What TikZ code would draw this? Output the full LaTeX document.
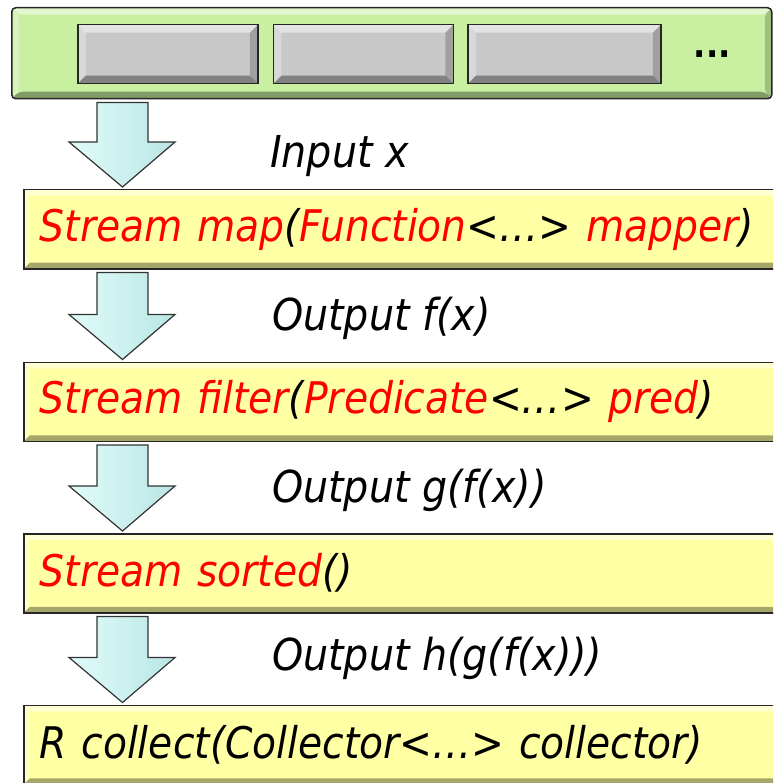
\documentclass[tikz,border=0pt]{standalone}
\usepackage{fontspec}
\setmainfont{DejaVu Sans Condensed}
\usetikzlibrary{positioning,calc}

\definecolor{barGreen}{RGB}{200,240,160}
\definecolor{keyGrey}{RGB}{200,200,200}
\definecolor{boxYellow}{RGB}{255,255,163}
\definecolor{arrowCyan}{RGB}{195,248,245}
\definecolor{opRed}{RGB}{255,0,0}

\tikzset{
  bevel/.style={path picture={
    \fill[white,opacity=.5] (path picture bounding box.north west) -- (path picture bounding box.north east)
      -- ([shift={(-#1,-#1)}]path picture bounding box.north east) -- ([shift={(#1,-#1)}]path picture bounding box.north west) -- cycle;
    \fill[white,opacity=.3] (path picture bounding box.north west) -- (path picture bounding box.south west)
      -- ([shift={(#1,#1)}]path picture bounding box.south west) -- ([shift={(#1,-#1)}]path picture bounding box.north west) -- cycle;
    \fill[black,opacity=.35] (path picture bounding box.south west) -- (path picture bounding box.south east)
      -- ([shift={(-#1,#1)}]path picture bounding box.south east) -- ([shift={(#1,#1)}]path picture bounding box.south west) -- cycle;
    \fill[black,opacity=.2] (path picture bounding box.north east) -- (path picture bounding box.south east)
      -- ([shift={(-#1,#1)}]path picture bounding box.south east) -- ([shift={(-#1,-#1)}]path picture bounding box.north east) -- cycle;
  }},
  streambar/.style={draw=black!85, line width=1.5pt, rounded corners=4pt, fill=barGreen,
    minimum width=760pt, minimum height=91pt, bevel=7pt},
  element/.style={draw=black!85, line width=1.5pt, fill=keyGrey, minimum height=59pt, bevel=8pt},
  stage/.style={draw=black!85, line width=1.5pt, fill=boxYellow, minimum width=760pt, minimum height=79pt,
    text width=735pt, align=left, inner xsep=16pt, inner ysep=0pt, bevel=6pt,
    font=\fontsize{43.6}{48}\selectfont\itshape},
  note/.style={inner sep=0pt, font=\fontsize{44}{48}\selectfont\itshape},
  flow/.style={draw=black!80, line width=1.2pt, left color=white!50!arrowCyan, right color=arrowCyan!85!gray}
}
\newcommand\op[1]{\textcolor{opRed}{#1}}
\newcommand\flowarrow[2]{%
  \draw[flow] let \p1=(#1.south), \p2=(#2.north west) in
    ({\x2+74pt},{\y1-3pt}) -- ({\x2+125pt},{\y1-3pt}) -- ({\x2+125pt},{\y2+47pt})
    -- ({\x2+152pt},{\y2+47pt}) -- ({\x2+99.5pt},{\y2+2pt}) -- ({\x2+46pt},{\y2+47pt})
    -- ({\x2+74pt},{\y2+47pt}) -- cycle;}

\begin{document}
\begin{tikzpicture}[x=1pt, y=-1pt]
  \useasboundingbox (0,0) rectangle (773,783);
  \clip (0,0) rectangle (773,783);

  % the stream and its elements
  \node [streambar, anchor=north west] (bar) at (11,7) {};
  \node [element, minimum width=180pt, anchor=north west] (e1) at (77,24) {};
  \node [element, minimum width=180pt, right=14pt of e1] (e2) {};
  \node [element, minimum width=193pt, right=13pt of e2] (e3) {};
  \node [inner sep=0pt, font=\fontsize{36}{40}\selectfont\bfseries, right=32pt of e3] (more) {...};

  % the pipeline
  \node [stage, anchor=north west] (map) at (23,189)
    {\op{Stream map}(\op{Function}<…> \op{mapper})};
  \node [stage, below=92pt of map] (filter)
    {\op{Stream filter}(\op{Predicate}<…> \op{pred})};
  \node [stage, below=91pt of filter] (sorted)
    {\op{Stream sorted}()};
  \node [stage, below=91pt of sorted] (collect)
    {R collect(Collector<…> collector)};

  \flowarrow{bar}{map}
  \flowarrow{map}{filter}
  \flowarrow{filter}{sorted}
  \flowarrow{sorted}{collect}

  \node [note, anchor=base west] (in) at (270,168) {Input x};
  \node [note, anchor=base west] (outf) at (272,330) {Output f(x)};
  \node [note, anchor=base west] (outg) at (272,502) {Output g(f(x))};
  \node [note, anchor=base west] (outh) at (272,670) {Output h(g(f(x)))};
\end{tikzpicture}
\end{document}
